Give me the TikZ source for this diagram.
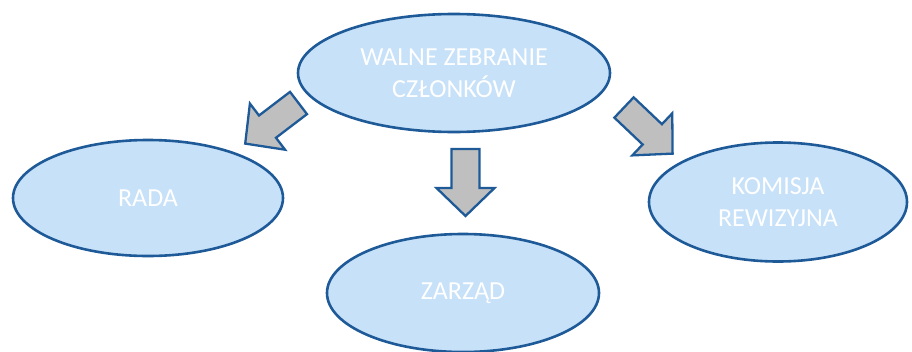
\documentclass[tikz,border=0pt]{standalone}
\usepackage{fontspec}
\setmainfont{Carlito}
\usetikzlibrary{shapes.geometric}
\definecolor{edgeblue}{HTML}{1F5A98}
\definecolor{fillblue}{HTML}{C7E1F9}
\definecolor{arrowgray}{HTML}{BFBFBF}
\tikzset{
  oval/.style={ellipse, draw=edgeblue, fill=fillblue, line width=2.6pt, inner sep=0pt,
    text=white, align=center, font=\fontsize{26pt}{32pt}\selectfont},
  blockarrow/.pic={
    \draw[draw=edgeblue, fill=arrowgray, line width=2.3pt, line join=miter]
      (0,-14) -- (39,-14) -- (39,-29) -- (67,0) -- (39,29) -- (39,14) -- (0,14) -- cycle;
  }
}
\begin{document}
\begin{tikzpicture}[x=1pt,y=-1pt]
\useasboundingbox (0,0) rectangle (912,351);
\node[oval, minimum width=312pt, minimum height=118pt] (wz) at (454,73) {WALNE ZEBRANIE\\CZŁONKÓW};
\node[oval, minimum width=270pt, minimum height=116pt] (rada) at (148,198) {RADA};
\node[oval, minimum width=258pt, minimum height=119pt] (kr) at (778,202) {KOMISJA\\REWIZYJNA};
\node[oval, minimum width=272pt, minimum height=118pt] (zarzad) at (463,293) {ZARZĄD};
\pic[shift={(298.5,103)}, rotate=217.3] {blockarrow};
\pic[shift={(465.5,149)}, rotate=-90] {blockarrow};
\pic[shift={(624,107.5)}, rotate=-43.5] {blockarrow};
\end{tikzpicture}
\end{document}
